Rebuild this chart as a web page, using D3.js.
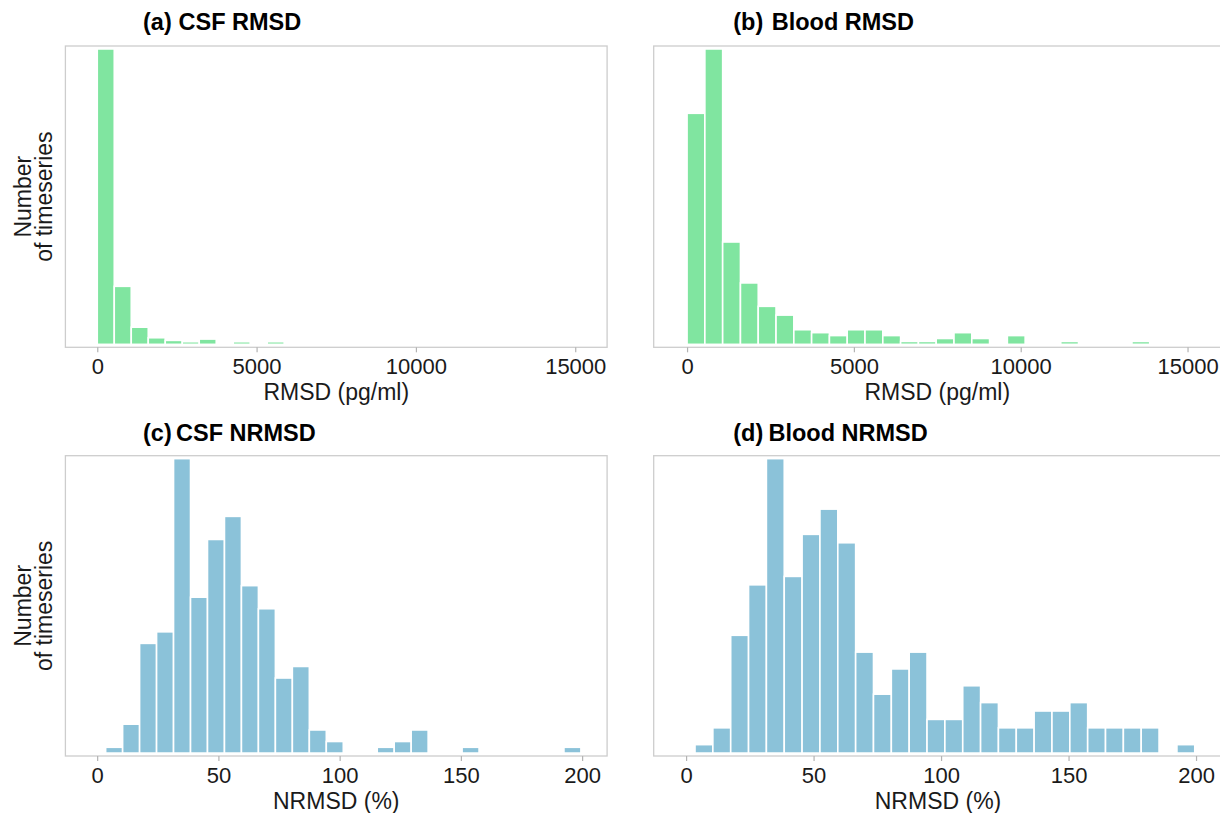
<!DOCTYPE html>
<html>
<head>
<meta charset="utf-8">
<script src="https://cdn.jsdelivr.net/npm/d3@7"></script>
<style>
  html, body { margin: 0; padding: 0; background: #ffffff; }
  svg { display: block; }
  text { font-family: "Liberation Sans", Arial, Helvetica, sans-serif; }
</style>
</head>
<body>
<svg id="chart" width="1220" height="813"></svg>
<script>
// ---------------- data ----------------
// RMSD histograms: bins start at 0 with width 16000/30 pg/ml
const rmsdBinStart = 0;
const rmsdBinWidth = 16000 / 30;
const csfRmsdCounts   = [224, 44, 13, 5, 3, 2, 4, 0, 2, 0, 2];
const bloodRmsdCounts = [79, 101, 35, 21, 13, 10, 5, 4, 3, 5, 5, 3, 1, 1, 2, 4, 2, 0, 3, 0, 0, 1, 0, 0, 0, 1];

// NRMSD histograms: bins centred on multiples of 7 %
const nrmsdBinStart = 3.5;
const nrmsdBinWidth = 7;
const csfNrmsdCounts   = [1, 5, 19, 21, 51, 27, 37, 41, 29, 25, 13, 15, 4, 2, 0, 0, 1, 2, 4, 0, 0, 1, 0, 0, 0, 0, 0, 1];
const bloodNrmsdCounts = [1, 3, 14, 20, 35, 21, 26, 29, 25, 12, 7, 10, 12, 4, 4, 8, 6, 3, 3, 5, 5, 6, 3, 3, 3, 3, 0, 1];

const rmsdTicks  = [0, 5000, 10000, 15000];
const nrmsdTicks = [0, 50, 100, 150, 200];

const panelLetters = ["(a)", "(b)", "(c)", "(d)"];
const panelTitles  = ["CSF RMSD", "Blood RMSD", "CSF NRMSD", "Blood NRMSD"];
const xTitles      = ["RMSD (pg/ml)", "RMSD (pg/ml)", "NRMSD (%)", "NRMSD (%)"];
const yTitleLines  = ["Number", "of timeseries"];

// ---------------- layout / style ----------------
const green = "#80e5a0";
const blue  = "#8bc2d9";

const panels = [
  { counts: csfRmsdCounts,   start: rmsdBinStart,  width: rmsdBinWidth,  domain: [-1000, 16000], ticks: rmsdTicks,
    box: { x0: 65.4, x1: 607.1, y0: 46, y1: 347.3 }, color: green, letterX: 143, titleX: 178.5, titleY: 30, yTitle: true },
  { counts: bloodRmsdCounts, start: rmsdBinStart,  width: rmsdBinWidth,  domain: [-1000, 16000], ticks: rmsdTicks,
    box: { x0: 653.7, x1: 1220.9, y0: 46, y1: 347.3 }, color: green, letterX: 733.3, titleX: 771.7, titleY: 30, yTitle: false },
  { counts: csfNrmsdCounts,  start: nrmsdBinStart, width: nrmsdBinWidth, domain: [-13.1, 210.3], ticks: nrmsdTicks,
    box: { x0: 65.4, x1: 607.1, y0: 455.7, y1: 756 }, color: blue, letterX: 143, titleX: 176, titleY: 441, yTitle: true },
  { counts: bloodNrmsdCounts, start: nrmsdBinStart, width: nrmsdBinWidth, domain: [-12.7, 210.3], ticks: nrmsdTicks,
    box: { x0: 653.7, x1: 1222.3, y0: 455.7, y1: 756 }, color: blue, letterX: 733.3, titleX: 768.5, titleY: 441, yTitle: false }
];

const svg = d3.select("#chart");

panels.forEach((p, i) => {
  const g = svg.append("g");
  const b = p.box;

  const x = d3.scaleLinear().domain(p.domain).range([b.x0, b.x1]);
  const maxC = d3.max(p.counts);
  const y = d3.scaleLinear().domain([-0.01 * maxC, 1.01 * maxC]).range([b.y1, b.y0]);

  const bins = p.counts.map((c, k) => ({ x0: p.start + k * p.width, x1: p.start + (k + 1) * p.width, n: c }))
                       .filter(d => d.n > 0);

  const clipId = "clip" + i;
  svg.append("clipPath").attr("id", clipId)
    .append("rect").attr("x", b.x0).attr("y", b.y0).attr("width", b.x1 - b.x0).attr("height", b.y1 - b.y0);

  g.append("g").attr("clip-path", `url(#${clipId})`)
    .selectAll("rect.bar").data(bins).join("rect")
    .attr("class", "bar")
    .attr("x", d => x(d.x0))
    .attr("width", d => x(d.x1) - x(d.x0))
    .attr("y", d => y(d.n))
    .attr("height", d => y(0) - y(d.n))
    .attr("fill", p.color)
    .attr("stroke", "#ffffff")
    .attr("stroke-width", 1.6);

  g.append("rect")
    .attr("x", b.x0).attr("y", b.y0)
    .attr("width", b.x1 - b.x0).attr("height", b.y1 - b.y0)
    .attr("fill", "none").attr("stroke", "#cdcdcd").attr("stroke-width", 1.3);

  const ax = g.append("g").attr("transform", `translate(0,${b.y1})`)
    .call(d3.axisBottom(x).tickValues(p.ticks).tickFormat(d3.format("d")).tickSize(5).tickPadding(6));
  ax.select(".domain").remove();
  ax.selectAll(".tick line").attr("stroke", "#b3b3b3").attr("stroke-width", 1.2);
  ax.selectAll(".tick text").attr("fill", "#1a1a1a").style("font-size", "22px");

  g.append("text")
    .attr("x", (b.x0 + b.x1) / 2).attr("y", b.y1 + 52.5)
    .attr("text-anchor", "middle").attr("fill", "#1a1a1a")
    .style("font-size", "23px")
    .text(xTitles[i]);

  g.append("text")
    .attr("x", p.letterX).attr("y", p.titleY)
    .attr("fill", "#000").style("font-size", "23.5px").style("font-weight", "bold")
    .text(panelLetters[i]);
  g.append("text")
    .attr("x", p.titleX).attr("y", p.titleY)
    .attr("fill", "#000").style("font-size", "23.5px").style("font-weight", "bold")
    .text(panelTitles[i]);

  if (p.yTitle) {
    const cy = (b.y0 + b.y1) / 2;
    const baselines = [31, 52];
    yTitleLines.forEach((t, j) => {
      g.append("text")
        .attr("transform", `translate(${baselines[j]},${cy}) rotate(-90)`)
        .attr("text-anchor", "middle").attr("fill", "#1a1a1a")
        .style("font-size", "23px")
        .text(t);
    });
  }
});
</script>
</body>
</html>
